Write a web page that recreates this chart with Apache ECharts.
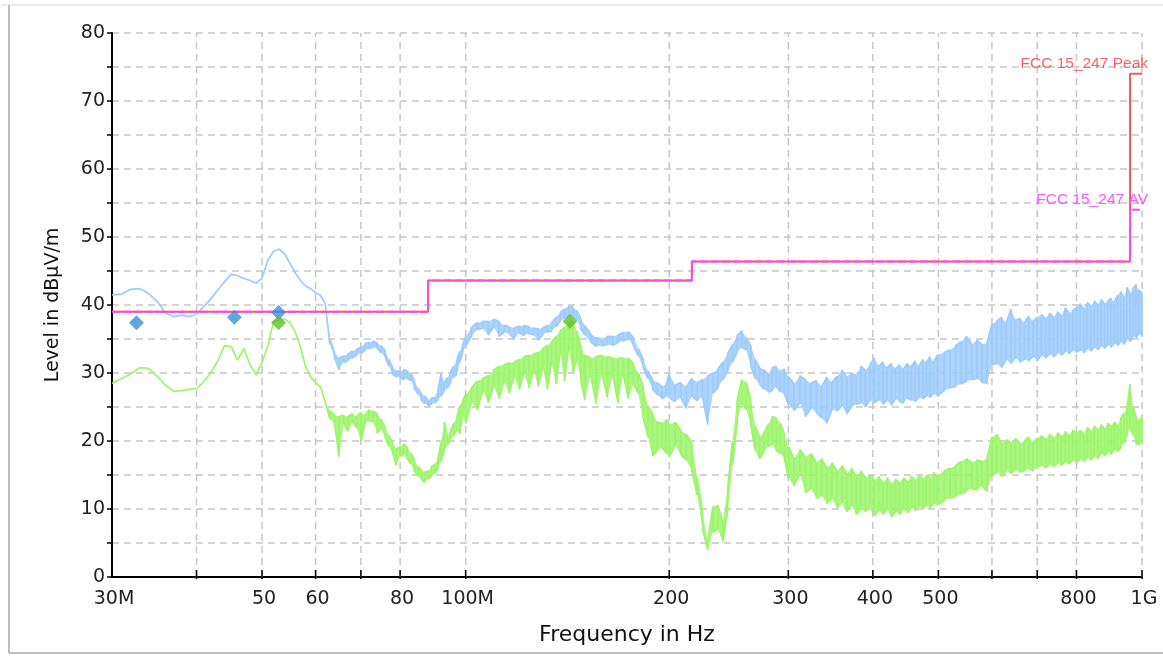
<!DOCTYPE html>
<html>
<head>
<meta charset="utf-8">
<script src="https://cdn.jsdelivr.net/npm/echarts@6.0.0/dist/echarts.min.js"></script>
<style>
html,body{margin:0;padding:0;background:#fff;}
#chart{width:1163px;height:656px;}
</style>
</head>
<body>
<div id="chart"></div>
<script>
// ---------- DATA ----------
// smooth part of the sweep (MHz)
const smoothFreq = [30,31,32,33,34,35,36,37,38,39,40,41,42,43,44,45,46,47,48,49,50,51,52,53,54,55,56,57,58,59,60,61,62];
const blueSmooth = [41.5,41.6,42.3,42.4,41.7,40.5,38.8,38.3,38.5,38.3,38.6,39.8,40.9,42.2,43.4,44.5,44.3,43.9,43.6,43.2,43.9,46.6,47.9,48.2,47.5,46.1,44.7,43.6,42.8,42.4,41.8,41.4,40.2];
const greenSmooth = [28.5,29.2,29.9,30.8,30.7,29.5,28.2,27.3,27.4,27.6,27.7,28.7,30.0,31.8,34.0,33.9,31.9,33.6,31.2,29.7,31.6,34.0,37.6,37.8,37.9,37.4,36.0,33.8,30.9,29.4,28.6,28.0,25.8];

// noisy part of the sweep (MHz) with upper / lower readings
const noisyFreq = [63,64,65,66,67,68,69,70,71,72,73,74,75,76,77,78,79,80,81,82,83,84,85,86,87,88,89,90,91,92,93,94,95,96,97,98,99,100,
102,104,106,108,110,112,114,116,118,120,122,124,126,128,130,132,134,136,138,140,142,144,146,148,150,
153,156,159,162,165,168,171,174,177,180,183,186,189,192,195,198,
200,204,208,212,216,220,224,228,232,236,240,244,248,252,256,260,264,268,272,276,280,284,288,292,296,
300,306,312,318,324,330,336,342,348,354,360,366,372,378,384,390,396,402,408,414,420,426,432,438,444,450,456,462,468,474,480,486,492,498,
510,520,530,540,550,560,570,580,590,600,610,620,630,640,650,660,670,680,690,700,710,720,730,740,750,760,770,780,790,800,810,820,830,840,850,860,870,880,890,900,910,920,930,940,950,960,970,980,990,1000];

const blueHigh = [35.0,33.0,32.2,32.5,32.8,33.2,33.5,33.8,34.3,34.5,34.7,34.4,34.0,33.3,32.0,30.8,30.3,30.2,30.5,30.3,30.0,28.8,27.8,27.0,26.6,26.0,26.3,26.4,27.5,30.0,28.6,29.3,30.2,31.0,31.8,33.2,34.2,35.3,
36.7,37.4,37.6,37.6,37.9,37.6,37.0,36.8,36.6,36.9,37.0,36.8,36.6,36.5,36.6,37.0,37.4,38.2,38.9,39.4,39.8,39.7,39.2,38.0,37.0,
35.8,35.2,35.0,35.4,35.4,35.6,36.0,36.1,35.2,33.6,32.0,30.3,29.0,28.6,28.0,28.4,
29.9,28.2,28.6,28.0,29.2,28.6,29.0,29.6,30.0,30.6,31.6,32.8,34.2,35.5,36.2,35.2,34.0,32.0,30.8,30.5,29.8,30.8,31.0,30.2,30.6,
29.5,28.4,29.6,29.0,28.5,28.9,28.0,29.4,28.6,29.5,30.4,29.4,30.0,29.6,31.0,30.4,31.2,32.2,31.0,31.6,30.8,31.4,30.6,31.2,30.6,31.4,31.0,31.8,31.0,32.0,31.6,32.4,31.6,32.6,
33.0,33.4,34.0,34.6,35.4,34.2,34.8,34.2,34.4,37.2,37.6,38.2,37.4,39.4,37.8,38.0,37.4,38.4,37.6,38.2,38.6,38.0,38.8,38.2,39.0,38.4,39.6,38.8,39.2,39.6,40.2,39.4,40.4,39.8,40.6,40.0,40.8,40.2,40.6,41.0,40.4,41.4,42.0,41.0,42.6,41.6,42.4,43.0,42.2,41.8];
const blueLow = [34.2,32.2,30.5,31.6,31.8,32.2,32.6,32.9,33.3,33.6,33.8,33.6,33.0,32.4,31.0,29.8,29.4,29.3,29.0,29.2,28.9,27.8,26.9,26.0,25.5,25.2,25.4,25.6,26.0,26.6,27.4,27.8,28.6,29.4,29.8,31.5,33.0,34.0,
35.4,36.4,36.6,35.6,36.8,35.4,36.0,35.8,35.0,35.9,35.5,35.8,35.6,34.8,35.6,36.0,36.2,36.8,37.6,38.0,38.4,38.5,37.9,36.5,35.6,
34.6,33.9,34.0,34.2,34.0,34.5,34.7,35.0,34.0,32.5,30.8,29.2,27.6,26.8,26.2,26.6,
26.4,25.8,26.4,24.8,26.6,25.9,26.5,22.4,27.0,27.8,29.0,30.2,31.6,33.0,33.8,33.4,31.0,29.2,28.4,27.6,27.2,27.4,28.0,27.2,26.9,
25.4,24.5,25.6,23.6,24.8,24.2,23.4,22.6,24.6,24.4,25.2,24.0,25.0,25.4,25.6,25.0,26.0,25.6,26.1,25.4,26.0,25.2,26.2,25.8,25.6,26.3,26.0,25.8,26.4,26.2,26.6,26.4,27.0,26.6,
27.4,27.8,28.0,28.4,28.8,29.0,29.2,28.6,28.5,31.2,31.4,30.8,32.0,31.4,32.2,31.6,32.0,31.8,32.4,31.8,32.6,32.2,32.8,32.4,33.0,32.6,33.2,32.8,33.4,33.0,33.4,33.0,33.6,33.2,33.8,33.4,34.0,33.6,34.2,33.8,34.4,34.0,34.6,34.2,35.0,34.6,35.4,35.2,35.8,35.4];

const greenHigh = [24.4,23.8,23.6,23.8,23.6,24.0,23.6,24.2,23.8,24.6,24.4,24.0,23.2,22.0,20.8,19.8,18.8,19.2,19.6,19.0,18.2,17.2,16.2,15.8,15.4,15.6,16.2,16.6,17.4,19.8,22.8,20.6,21.6,22.6,23.4,25.2,26.0,26.8,
27.8,28.8,29.2,29.6,30.4,31.0,31.2,31.5,31.6,32.0,32.4,32.6,32.8,33.0,33.6,34.0,34.6,35.4,36.2,36.8,37.4,37.6,36.2,34.0,32.6,
32.2,32.4,32.6,32.4,32.2,32.2,32.2,32.2,31.4,30.0,28.0,25.2,24.0,22.8,22.6,23.2,
22.4,22.8,21.6,21.0,19.8,14.6,9.6,5.2,10.4,10.6,8.0,13.0,20.0,26.0,29.0,28.6,26.0,22.2,20.6,21.2,22.4,23.6,23.4,22.6,21.0,
19.2,17.4,18.8,17.6,18.2,16.8,17.4,16.0,16.8,15.6,16.4,15.2,16.0,14.8,15.6,14.6,15.0,14.2,14.8,13.8,14.6,13.6,14.4,13.8,14.6,14.0,14.8,14.2,15.0,14.4,15.0,14.6,15.4,14.8,
15.6,16.0,16.4,17.0,17.4,16.8,17.2,17.0,17.4,20.6,21.0,19.6,20.2,19.8,20.4,19.6,20.0,20.6,19.8,20.4,20.8,20.2,21.0,20.4,21.2,20.6,21.4,20.8,21.6,21.2,21.6,21.0,22.0,21.4,22.2,21.6,22.4,21.8,22.6,22.2,22.8,22.2,23.4,24.0,24.8,28.4,25.0,23.6,23.0,23.4];
const greenLow = [23.2,22.6,17.7,22.6,21.4,22.8,22.0,20.0,22.6,23.0,22.8,21.2,21.8,20.6,19.2,18.2,16.4,17.8,18.0,17.4,16.6,15.6,14.8,14.4,13.9,14.4,14.8,15.2,16.0,17.0,18.6,19.4,20.2,20.8,21.6,21.0,24.0,22.6,
25.8,24.6,27.4,25.6,28.2,26.2,28.8,27.0,29.6,27.6,30.0,27.8,30.4,28.0,30.8,27.6,31.6,28.4,33.0,28.8,33.8,30.0,32.0,29.0,26.0,
29.8,25.4,30.0,26.4,29.6,25.6,29.8,26.2,28.4,27.0,23.4,20.6,17.8,18.6,19.0,18.2,
17.6,19.4,18.0,17.2,15.6,12.0,7.0,4.0,6.6,7.0,5.2,9.6,16.4,22.6,25.6,24.6,22.4,18.6,17.4,18.4,19.2,19.6,18.6,18.2,17.4,
14.6,13.4,15.2,12.4,13.0,11.6,12.0,10.8,11.6,10.2,11.0,9.6,10.6,9.2,10.0,9.6,10.4,9.0,9.8,9.2,10.0,8.8,9.6,9.2,10.0,9.4,10.2,9.8,10.4,10.0,10.6,10.2,10.8,10.6,
11.2,11.6,11.8,12.2,12.6,13.0,12.8,13.4,12.6,15.0,15.4,14.8,15.6,15.2,15.8,15.4,15.6,16.0,15.6,16.2,16.4,16.0,16.6,16.2,16.8,16.4,17.0,16.6,17.2,16.8,17.4,17.0,17.6,17.2,17.8,17.4,18.2,17.8,18.4,18.0,18.8,18.4,19.0,19.6,20.8,22.0,20.8,19.6,19.4,19.8];

// limit lines
const limitFreq = [30, 88, 88, 216, 216, 960, 960, 1000];
const peakLimit = [39.0, 39.0, 43.6, 43.6, 46.4, 46.4, 74.0, 74.0];
const avLimit   = [39.0, 39.0, 43.6, 43.6, 46.4, 46.4, 54.0, 54.0];
const limitNames = ['FCC 15_247 Peak', 'FCC 15_247 AV'];
const limitLabelLevel = [74.0, 54.0];

// final measurement markers
const blueMarkFreq = [32.6, 45.5, 52.9];
const blueMarkLevel = [37.4, 38.2, 38.9];
const greenMarkFreq = [52.9, 142.7];
const greenMarkLevel = [37.4, 37.6];

// axis ticks / labels
const xGridFreq = [40, 50, 60, 70, 80, 100, 200, 300, 400, 500, 600, 700, 800, 1000];
const xLabelFreq = [30, 50, 60, 80, 100, 200, 300, 400, 500, 800, 1000];
const xLabelText = ['30M', '50', '60', '80', '100M', '200', '300', '400', '500', '800', '1G'];

// ---------- BUILD ----------
const allFreq = smoothFreq.concat(noisyFreq);
const blueHi = blueSmooth.concat(blueHigh), blueLo = blueSmooth.concat(blueLow);
const greenHi = greenSmooth.concat(greenHigh), greenLo = greenSmooth.concat(greenLow);

function sweep(hi, lo) {
  const out = [];
  for (let i = 0; i < allFreq.length; i++) {
    if (i % 2 === 0) { out.push([allFreq[i], hi[i]], [allFreq[i], lo[i]]); }
    else { out.push([allFreq[i], lo[i]], [allFreq[i], hi[i]]); }
  }
  return out;
}
const zip = (a, b) => a.map((v, i) => [v, b[i]]);

// filled band between the upper and lower readings (drawn through the axis scales)
function bandSeries(name, hi, lo, color, z) {
  return {
    name: name, type: 'custom', silent: true, z: z,
    data: [[allFreq[0], lo[0]]], encode: {x: 0, y: 1},
    renderItem: (params, api) => {
      const pts = [];
      for (let i = 0; i < allFreq.length; i++) pts.push(api.coord([allFreq[i], hi[i]]));
      for (let i = allFreq.length - 1; i >= 0; i--) pts.push(api.coord([allFreq[i], lo[i]]));
      return {type: 'polygon', shape: {points: pts}, style: {fill: color, opacity: 0.85}};
    }
  };
}

const GRID_COLOR = '#c6c6c6';
const FONT = 'DejaVu Sans';
const BLUE = '#9dcbfb';
const GREEN = '#9cf56a';

const chart = echarts.init(document.getElementById('chart'), null, {renderer: 'canvas'});
chart.setOption({
  animation: false,
  backgroundColor: '#ffffff',
  grid: {left: 112, right: 21, top: 33, bottom: 79, containLabel: false, outerBoundsMode: 'none'},
  xAxis: {
    type: 'log', logBase: 10, min: 30, max: 1000,
    axisLine: {show: true, onZero: false, lineStyle: {color: '#000', width: 2}},
    axisTick: {show: false}, axisLabel: {show: false},
    splitLine: {show: false}, minorTick: {show: false}, minorSplitLine: {show: false},
    name: 'Frequency in Hz', nameLocation: 'middle', nameGap: 47,
    nameTextStyle: {fontSize: 22, fontFamily: FONT, color: '#111'}
  },
  yAxis: {
    type: 'value', min: 0, max: 80, interval: 5,
    axisLine: {show: true, lineStyle: {color: '#000', width: 2}},
    axisTick: {show: true, length: 5, lineStyle: {color: '#000', width: 1.5}},
    axisLabel: {formatter: v => (v % 10 === 0 ? String(v) : ''), fontSize: 19, fontFamily: FONT, color: '#222', margin: 7},
    splitLine: {show: true, lineStyle: {color: GRID_COLOR, width: 1.5, type: [7, 5]}},
    name: 'Level in dBµV/m', nameLocation: 'middle', nameGap: 49,
    nameTextStyle: {fontSize: 19, fontFamily: FONT, color: '#111'}
  },
  graphic: [
    {type: 'line', silent: true, shape: {x1: 1, y1: 5, x2: 1163, y2: 5}, style: {stroke: '#ececec', lineWidth: 2}},
    {type: 'line', silent: true, shape: {x1: 9, y1: 5, x2: 9, y2: 653}, style: {stroke: '#bdbdbd', lineWidth: 2}},
    {type: 'line', silent: true, shape: {x1: 9, y1: 653, x2: 1163, y2: 653}, style: {stroke: '#bdbdbd', lineWidth: 2}}
  ],
  series: [
    {
      name: 'xgrid', type: 'custom', silent: true, z: 1,
      data: xGridFreq.map(f => [f, 0]),
      encode: {x: 0, y: 1},
      renderItem: (params, api) => {
        const f = api.value(0);
        const p0 = api.coord([f, 0]);
        const p1 = api.coord([f, 80]);
        return {type: 'group', children: [
          {type: 'line', shape: {x1: p0[0], y1: p0[1], x2: p1[0], y2: p1[1]}, style: {stroke: GRID_COLOR, lineWidth: 1.5, lineDash: [7, 5]}},
          {type: 'line', shape: {x1: p0[0], y1: p0[1] + 2, x2: p0[0], y2: p0[1] - 7}, style: {stroke: '#000', lineWidth: 1.5}}
        ]};
      }
    },
    {
      name: 'xlabels', type: 'custom', silent: true, z: 3, clip: false,
      data: xLabelFreq.map(f => [f, 0]),
      encode: {x: 0, y: 1},
      renderItem: (params, api) => {
        const p = api.coord([api.value(0), 0]);
        return {type: 'text', x: p[0] + 2, y: p[1] + 13, style: {
          text: xLabelText[params.dataIndex], fontSize: 19, fontFamily: FONT, fill: '#222', align: 'center', verticalAlign: 'top'}};
      }
    },
    bandSeries('Peak band', blueHi, blueLo, BLUE, 2),
    {
      name: 'Peak trace', type: 'line', z: 2, symbol: 'none', showSymbol: false,
      data: sweep(blueHi, blueLo),
      lineStyle: {color: BLUE, width: 1.7}
    },
    bandSeries('Average band', greenHi, greenLo, GREEN, 3),
    {
      name: 'Average trace', type: 'line', z: 3, symbol: 'none', showSymbol: false,
      data: sweep(greenHi, greenLo),
      lineStyle: {color: GREEN, width: 1.7}
    },
    {
      name: 'FCC 15_247 Peak', type: 'line', z: 4, symbol: 'none', showSymbol: false,
      data: zip(limitFreq, peakLimit),
      lineStyle: {color: '#f45a5a', width: 2}
    },
    {
      name: 'FCC 15_247 AV', type: 'line', z: 5, symbol: 'none', showSymbol: false,
      data: zip(limitFreq, avLimit),
      lineStyle: {color: '#ff44ff', width: 2, type: [8, 3]}
    },
    {
      name: 'limitLabels', type: 'custom', silent: true, z: 6, clip: false,
      data: limitLabelLevel.map(v => [1000, v]),
      encode: {x: 0, y: 1},
      renderItem: (params, api) => {
        const p = api.coord([api.value(0), api.value(1)]);
        return {type: 'text', x: p[0] + 6, y: p[1] - 10, style: {
          text: limitNames[params.dataIndex], fontSize: 15.5, fontFamily: 'Liberation Sans',
          fill: params.dataIndex === 0 ? '#f46262' : '#ff55ff', align: 'right', verticalAlign: 'middle'}};
      }
    },
    {
      name: 'Peak finals', type: 'scatter', z: 7, symbol: 'diamond', symbolSize: 15,
      data: zip(blueMarkFreq, blueMarkLevel),
      itemStyle: {color: '#3b8fd8'}
    },
    {
      name: 'Average finals', type: 'scatter', z: 8, symbol: 'diamond', symbolSize: 15,
      data: zip(greenMarkFreq, greenMarkLevel),
      itemStyle: {color: '#5cbf2a'}
    }
  ]
});
</script>
</body>
</html>
